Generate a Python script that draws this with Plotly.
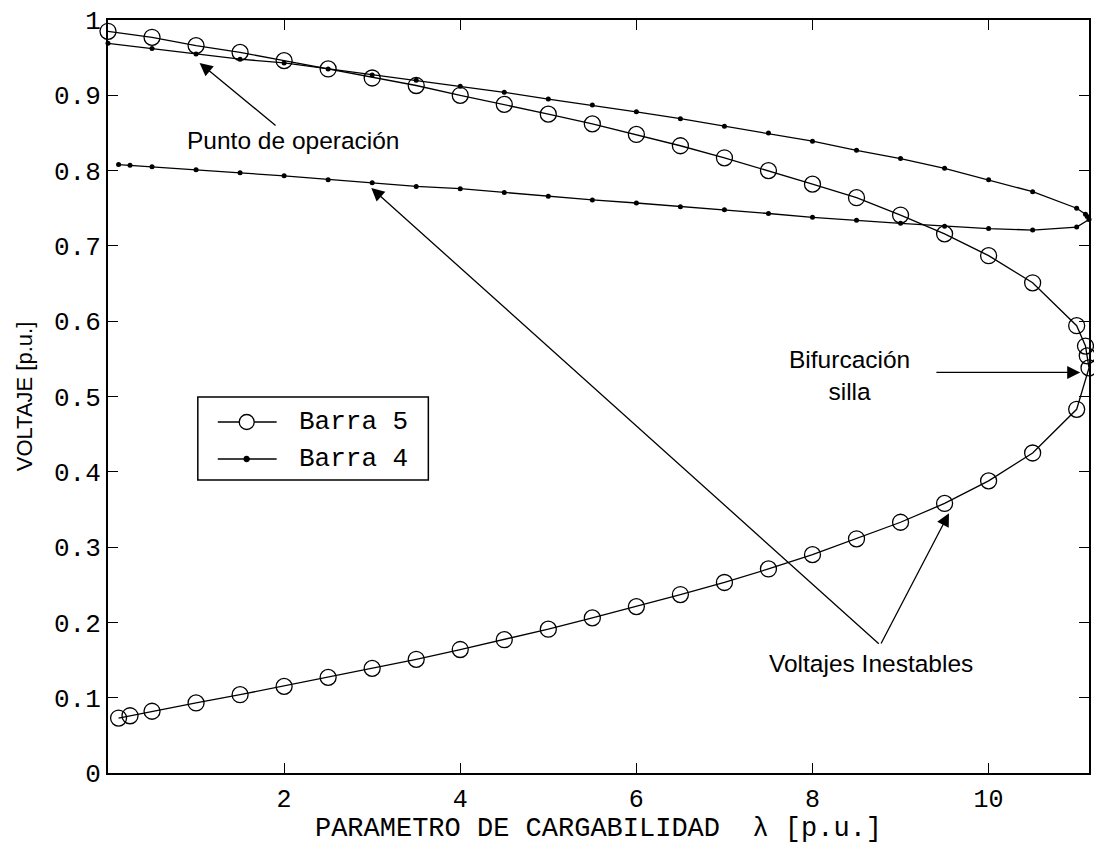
import plotly.graph_objects as go

# Loading parameter (lambda) along the continuation path: upper branch,
# nose (saddle-node point) and lower branch.
lam_upper = [0, 0.5, 1, 1.5, 2, 2.5, 3, 3.5, 4, 4.5, 5, 5.5, 6, 6.5, 7, 7.5,
             8, 8.5, 9, 9.5, 10, 10.5, 11]
lam_nose = [11.1, 11.12, 11.14]
lam_lower = [11, 10.5, 10, 9.5, 9, 8.5, 8, 7.5, 7, 6.5, 6, 5.5, 5, 4.5, 4,
             3.5, 3, 2.5, 2, 1.5, 1, 0.5, 0.25, 0.12]
lam = lam_upper + lam_nose + lam_lower

# Bus 5 voltage [p.u.]
v5_upper = [0.985, 0.977, 0.966, 0.957, 0.946, 0.935, 0.923, 0.913, 0.900,
            0.888, 0.875, 0.862, 0.848, 0.833, 0.817, 0.800, 0.782, 0.764,
            0.741, 0.716, 0.687, 0.651, 0.594]
v5_nose = [0.567, 0.554, 0.538]
v5_lower = [0.483, 0.425, 0.388, 0.358, 0.333, 0.311, 0.290, 0.271, 0.253,
            0.237, 0.221, 0.206, 0.191, 0.177, 0.164, 0.151, 0.139, 0.127,
            0.115, 0.104, 0.093, 0.082, 0.076, 0.073]
v5 = v5_upper + v5_nose + v5_lower

# Bus 4 voltage [p.u.]
v4_upper = [0.969, 0.962, 0.955, 0.948, 0.943, 0.935, 0.927, 0.920, 0.912,
            0.904, 0.895, 0.887, 0.878, 0.869, 0.859, 0.850, 0.839, 0.827,
            0.816, 0.803, 0.788, 0.772, 0.750]
v4_nose = [0.742, 0.739, 0.735]
v4_lower = [0.725, 0.721, 0.723, 0.726, 0.730, 0.734, 0.738, 0.743, 0.748,
            0.752, 0.757, 0.761, 0.766, 0.771, 0.776, 0.779, 0.784, 0.788,
            0.793, 0.797, 0.801, 0.805, 0.807, 0.808]
v4 = v4_upper + v4_nose + v4_lower

series_names = ["Barra 5", "Barra 4"]
x_ticks = [2, 4, 6, 8, 10]
y_ticks = [0, 0.1, 0.2, 0.3, 0.4, 0.5, 0.6, 0.7, 0.8, 0.9, 1]
y_tick_text = ["0", "0.1", "0.2", "0.3", "0.4", "0.5", "0.6", "0.7", "0.8",
               "0.9", "1"]

MONO = "Liberation Mono"
SANS = "Liberation Sans, Arial"

W, H = 1094, 844
M_L, M_R, M_T, M_B = 108, 3, 20, 71
PW, PH = W - M_L - M_R, H - M_T - M_B


def px_x(px):
    """Pixel column -> paper x."""
    return (px - M_L) / PW


def px_y(py):
    """Pixel row -> paper y."""
    return (H - M_B - py) / PH


fig = go.Figure()
fig.add_trace(go.Scatter(
    x=lam, y=v5, name=series_names[0], mode="lines+markers",
    line=dict(color="black", width=1.3),
    marker=dict(symbol="circle-open", size=16, color="black",
                line=dict(width=1.3)),
    cliponaxis=False, showlegend=False,
))
fig.add_trace(go.Scatter(
    x=lam, y=v4, name=series_names[1], mode="lines+markers",
    line=dict(color="black", width=1.3),
    marker=dict(symbol="circle", size=5, color="black"),
    cliponaxis=False, showlegend=False,
))

axis_common = dict(
    showline=True, linecolor="black", linewidth=2, mirror="ticks",
    ticks="inside", ticklen=10, tickwidth=1, tickcolor="black",
    showgrid=False, zeroline=False,
)

fig.update_xaxes(
    range=[0, 11.14], tickvals=x_ticks, ticklabelstandoff=2,
    tickfont=dict(family=MONO, size=25, color="black"),
    title=dict(text="PARAMETRO DE CARGABILIDAD  \u03bb [p.u.]",
               font=dict(family=MONO, size=27, color="black"), standoff=5),
    **axis_common,
)
fig.update_yaxes(
    range=[0, 1], tickvals=y_ticks, ticktext=y_tick_text, ticklabelstandoff=0,
    tickfont=dict(family=MONO, size=26, color="black"),
    title=dict(text="VOLTAJE [p.u.]",
               font=dict(family=SANS, size=22, color="black"), standoff=15),
    **axis_common,
)

ann_font = dict(family=SANS, size=24.5, color="black")
arrow_style = dict(showarrow=True, arrowhead=2, arrowsize=2.0, arrowwidth=1.3,
                   arrowcolor="black", axref="x", ayref="y", xref="x",
                   yref="y")

annotations = [
    # Operating point
    dict(x=1.04, y=0.943, ax=2.11, ay=0.840, text="Punto de operación",
         font=ann_font, **arrow_style),
    # Saddle-node bifurcation
    dict(x=11.04, y=0.532, ax=9.39, ay=0.532, text="", **arrow_style),
    dict(x=8.42, y=0.528, text="Bifurcación<br>silla", showarrow=False,
         font=ann_font, xref="x", yref="y"),
    # Unstable voltages
    dict(x=2.99, y=0.777, ax=8.77, ay=0.170, text="", **arrow_style),
    dict(x=9.55, y=0.345, ax=8.77, ay=0.170, text="", **arrow_style),
    dict(x=8.67, y=0.146, text="Voltajes Inestables", showarrow=False,
         font=ann_font, xref="x", yref="y"),
]

# Legend box drawn in paper coordinates
legend_font = dict(family=MONO, size=26, color="black")
shapes = [
    dict(type="rect", xref="paper", yref="paper",
         x0=px_x(198), x1=px_x(429), y0=px_y(480), y1=px_y(397),
         line=dict(color="black", width=1.5), fillcolor="white", layer="above"),
]
legend_rows = [px_y(422), px_y(459)]
for i, yr in enumerate(legend_rows):
    shapes.append(dict(type="line", xref="paper", yref="paper",
                       x0=px_x(218), x1=px_x(277), y0=yr, y1=yr,
                       line=dict(color="black", width=1.3), layer="above"))
    r = 7.5 if i == 0 else 2.5
    shapes.append(dict(type="circle", xref="paper", yref="paper",
                       xsizemode="pixel", ysizemode="pixel",
                       xanchor=px_x(247), yanchor=yr,
                       x0=-r, x1=r, y0=-r, y1=r,
                       line=dict(color="black", width=1.3),
                       fillcolor="white" if i == 0 else "black",
                       layer="above"))
    annotations.append(dict(x=px_x(297), y=yr, xref="paper", yref="paper",
                            text=series_names[i], showarrow=False,
                            xanchor="left", yanchor="middle",
                            font=legend_font))

fig.update_layout(
    width=W, height=H,
    margin=dict(l=M_L, r=M_R, t=M_T, b=M_B),
    paper_bgcolor="white", plot_bgcolor="white",
    annotations=annotations,
    shapes=shapes,
    showlegend=False,
)

fig.write_html("out.html")
